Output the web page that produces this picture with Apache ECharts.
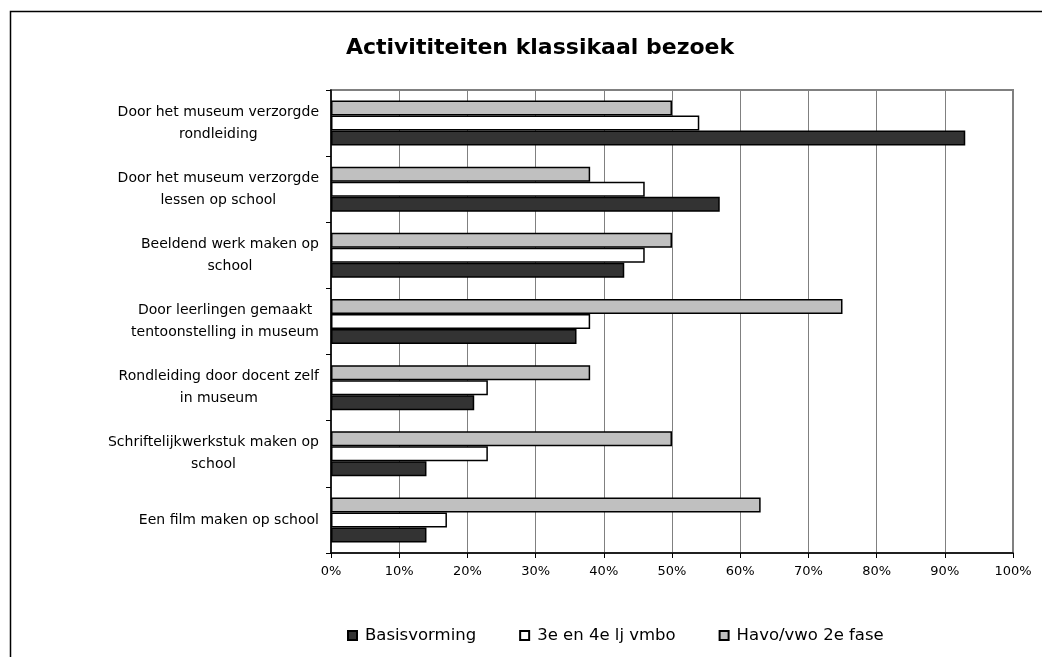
<!DOCTYPE html>
<html lang="nl">
<head>
	<meta charset="UTF-8">
	<title>Activititeiten klassikaal bezoek</title>
	<style>
		html, body{
			margin: 0;
			padding: 0;
			background: #fff;
		}
		#main{
			width: 1042px;
			height: 657px;
		}
	</style>
	<script src="https://cdn.jsdelivr.net/npm/echarts@6/dist/echarts.min.js"></script>
</head>
<body>
	<div id="main"></div>
	<script>
		// categorieen, van boven naar beneden
		var categories = [
			'Door het museum verzorgde\nrondleiding',
			'Door het museum verzorgde\nlessen op school',
			'Beeldend werk maken op\nschool',
			'Door leerlingen gemaakt\ntentoonstelling in museum',
			'Rondleiding door docent zelf\nin museum',
			'Schriftelijkwerkstuk maken op\nschool',
			'Een film maken op school'
		];
		var seriesNames = ['Basisvorming', '3e en 4e lj vmbo', 'Havo/vwo 2e fase'];
		var basisvorming = [93, 57, 43, 36, 21, 14, 14];
		var vmbo = [54, 46, 46, 38, 23, 23, 17];
		var havoVwo = [50, 38, 50, 75, 38, 50, 63];
		var xTicks = [0, 10, 20, 30, 40, 50, 60, 70, 80, 90, 100];

		var font = 'DejaVu Sans';
		var chart = echarts.init(document.getElementById('main'));

		function barSeries(name, data, color){
			return {
				name: name,
				type: 'bar',
				data: data,
				barWidth: 15,
				barGap: '0%',
				itemStyle: {
					color: color,
					borderColor: '#000',
					borderWidth: 1.5
				},
				emphasis: {disabled: true}
			};
		}

		var option = {
			animation: false,
			backgroundColor: '#fff',
			title: {
				text: 'Activititeiten klassikaal bezoek',
				left: 535,
				top: 32,
				textAlign: 'center',
				textStyle: {
					fontFamily: font,
					fontSize: 22,
					fontWeight: 'bold',
					color: '#000'
				}
			},
			legend: {
				data: seriesNames,   // legend in de oorspronkelijke volgorde
				left: 342,
				top: 622,
				itemWidth: 9,
				itemHeight: 9,
				itemGap: 43,
				icon: 'rect',
				textStyle: {
					fontFamily: font,
					fontSize: 16.5,
					color: '#000',
					padding: [0, 0, 0, 3]
				}
			},
			grid: {
				left: 331,
				right: 29,
				top: 90,
				bottom: 104,
				show: true,
				borderColor: '#808080',
				borderWidth: 2
			},
			xAxis: {
				type: 'value',
				min: xTicks[0],
				max: xTicks[xTicks.length - 1],
				interval: 10,
				axisLine: {show: true, lineStyle: {color: '#000', width: 1.5}},
				axisTick: {show: true, length: 5, lineStyle: {color: '#000'}},
				splitLine: {show: true, lineStyle: {color: '#808080', width: 1}},
				axisLabel: {
					margin: 12,
					fontFamily: font,
					fontSize: 13,
					color: '#000',
					formatter: '{value}%'
				}
			},
			yAxis: {
				type: 'category',
				inverse: true,
				data: categories,
				axisLine: {show: true, lineStyle: {color: '#000', width: 1.5}},
				axisTick: {show: true, length: 5, lineStyle: {color: '#000'}},
				axisLabel: {
					margin: 12,
					fontFamily: font,
					fontSize: 14,
					color: '#000',
					formatter: function(v){
						return v.split('\n').map(function(s){ return '{c|' + s + '}'; }).join('\n');
					},
					rich: {
						c: {
							align: 'center',
							fontFamily: font,
							fontSize: 14,
							color: '#000',
							lineHeight: 22
						}
					}
				}
			},
			// bovenste balk per groep = eerste serie (as is omgekeerd)
			series: [
				barSeries(seriesNames[2], havoVwo, '#c0c0c0'),
				barSeries(seriesNames[1], vmbo, '#ffffff'),
				barSeries(seriesNames[0], basisvorming, '#333333')
			],
			graphic: [{
				type: 'rect',
				left: 8,
				top: 9,
				shape: {width: 1100, height: 700},
				style: {fill: 'none', stroke: '#000', lineWidth: 1.5},
				silent: true
			}]
		};

		chart.setOption(option);
	</script>
</body>
</html>
